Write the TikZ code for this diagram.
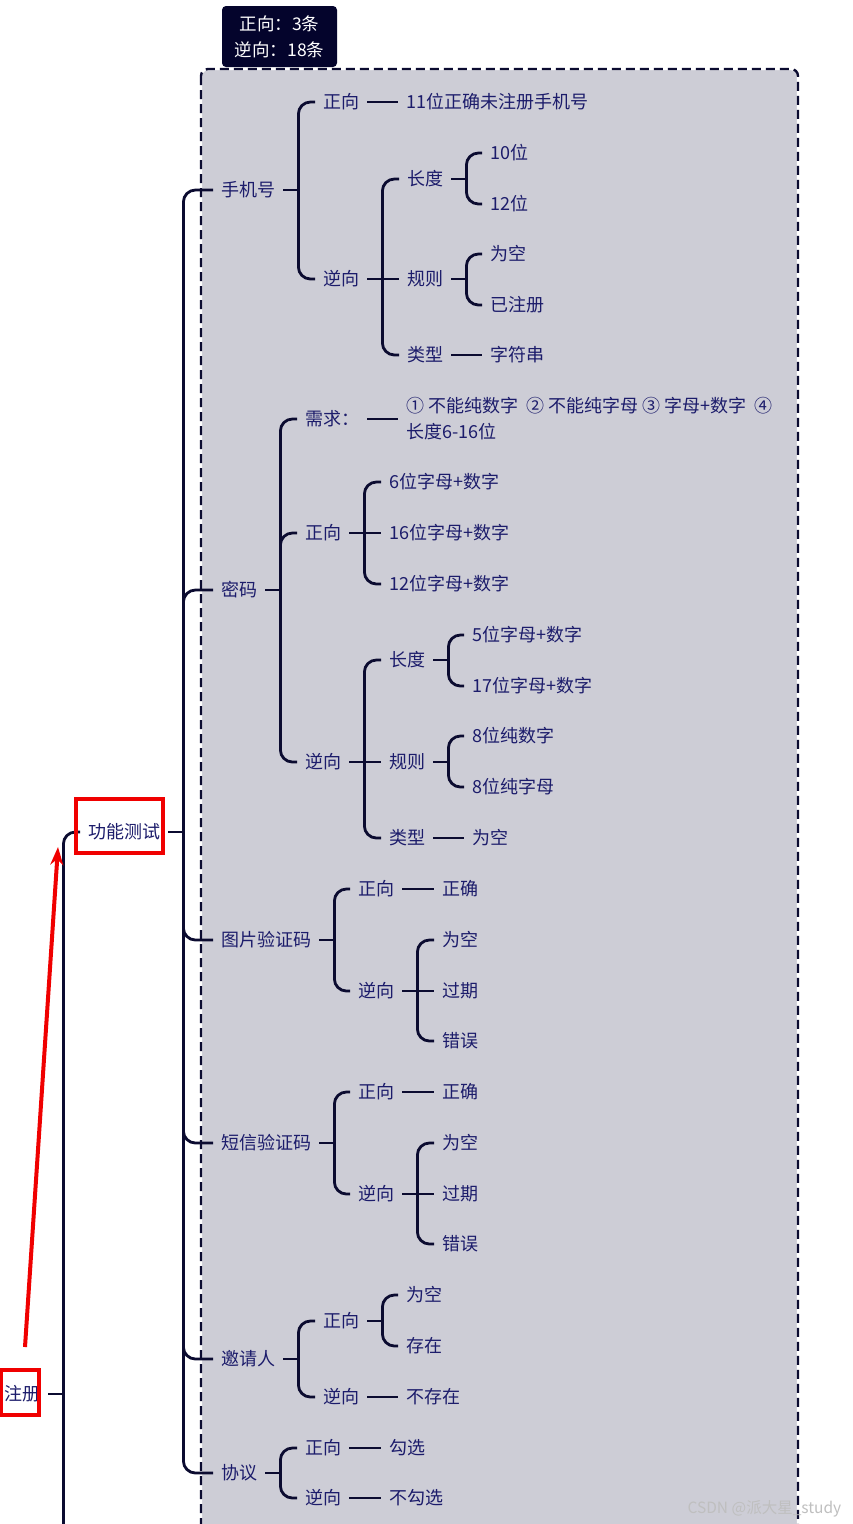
\documentclass[tikz,border=0pt]{standalone}
\usepackage{fontspec}
\setmainfont{Noto Sans CJK SC}
\usepackage{tikz}
\usetikzlibrary{arrows.meta,calc}
\definecolor{ink}{HTML}{1C1C6B}
\definecolor{wire}{HTML}{0B0B30}
\definecolor{panelgray}{HTML}{CDCDD6}
\definecolor{tagnavy}{HTML}{04042C}
\definecolor{redpen}{HTML}{F00000}
\tikzset{
  topic/.style={anchor=west,inner xsep=8pt,inner ysep=2pt,yshift=-1pt,text=ink,font=\fontsize{18}{26}\selectfont},
  link/.style={draw=wire,line width=2.8pt},
  forklink/.style={link,rounded corners=12pt},
  redbox/.style={draw=redpen,line width=3.5pt},
}
% stub out of a parent, elbow to a child, straight link
\newcommand{\stub}[1]{\draw[link] (#1.east) -- ++(15,0);}
\newcommand{\fork}[2]{\draw[forklink] ($(#1.east)+(15,0)$) |- (#2.west);}
\newcommand{\joint}[2]{\draw[link] (#1.east) -- (#2.west);}

\begin{document}
\begin{tikzpicture}[x=1pt,y=-1pt]
\clip (0,0) rectangle (852,1524);
\fill[white] (0,0) rectangle (852,1524);
% panel and tally tag
\draw[white,line width=2.4pt,fill=panelgray,rounded corners=7pt] (201,69) rectangle (798,1580);
\draw[wire,line width=2.4pt,dash pattern=on 9pt off 5pt,rounded corners=7pt] (201,69) rectangle (798,1580);
\node[fill=tagnavy,text=white,rounded corners=4pt,minimum width=115pt,minimum height=61pt,align=center,
  font=\fontsize{17.5}{26}\selectfont] (tally) at (279.5,36.5) {正向：3条\\逆向：18条};

% root and first level
\node[topic] (reg) at (-4,1393) {注册};
\node[topic] (func) at (80,831) {功能测试};
\node[topic] (phone) at (213,189) {手机号};
\node[topic] (pwd) at (213,589) {密码};
\node[topic] (imgcode) at (213,939) {图片验证码};
\node[topic] (smscode) at (213,1142) {短信验证码};
\node[topic] (inviter) at (213,1358) {邀请人};
\node[topic] (agree) at (213,1472) {协议};

% phone
\node[topic] (phonepos) at (315,101) {正向};
\node[topic] (phoneneg) at (315,278) {逆向};
\node[topic] (phoneok) at (398,101) {11位正确未注册手机号};
\node[topic] (phonelen) at (399,178) {长度};
\node[topic] (phonerule) at (399,278) {规则};
\node[topic] (phonetype) at (399,354) {类型};
\node[topic] (len10) at (482,152) {10位};
\node[topic] (len12) at (482,203) {12位};
\node[topic] (ruleempty) at (482,253) {为空};
\node[topic] (ruletaken) at (482,304) {已注册};
\node[topic] (typestr) at (482,354) {字符串};

% password
\node[topic] (pwdreq) at (297,418) {需求：};
\node[topic] (pwdpos) at (297,532) {正向};
\node[topic] (pwdneg) at (297,761) {逆向};
\node[topic,align=left] (pwdreqtext) at (398,418) {① 不能纯数字\ \ ② 不能纯字母 ③ 字母+数字\ \ ④\\长度6-16位};
\node[topic] (pwdpos6) at (381,481) {6位字母+数字};
\node[topic] (pwdpos16) at (381,532) {16位字母+数字};
\node[topic] (pwdpos12) at (381,583) {12位字母+数字};
\node[topic] (pwdlen) at (381,659) {长度};
\node[topic] (pwdrule) at (381,761) {规则};
\node[topic] (pwdtype) at (381,837) {类型};
\node[topic] (pwdlen5) at (464,634) {5位字母+数字};
\node[topic] (pwdlen17) at (464,685) {17位字母+数字};
\node[topic] (pwdrulenum) at (464,735) {8位纯数字};
\node[topic] (pwdrulealpha) at (464,786) {8位纯字母};
\node[topic] (pwdtypeempty) at (464,837) {为空};

% image code / sms code
\node[topic] (imgpos) at (350,888) {正向};
\node[topic] (imgneg) at (350,990) {逆向};
\node[topic] (imgok) at (434,888) {正确};
\node[topic] (imgempty) at (434,939) {为空};
\node[topic] (imgexpired) at (434,990) {过期};
\node[topic] (imgwrong) at (434,1040) {错误};
\node[topic] (smspos) at (350,1091) {正向};
\node[topic] (smsneg) at (350,1193) {逆向};
\node[topic] (smsok) at (434,1091) {正确};
\node[topic] (smsempty) at (434,1142) {为空};
\node[topic] (smsexpired) at (434,1193) {过期};
\node[topic] (smswrong) at (434,1243) {错误};

% inviter / agreement
\node[topic] (invpos) at (315,1320) {正向};
\node[topic] (invneg) at (315,1396) {逆向};
\node[topic] (invempty) at (398,1294) {为空};
\node[topic] (invexists) at (398,1345) {存在};
\node[topic] (invnone) at (398,1396) {不存在};
\node[topic] (agrpos) at (297,1447) {正向};
\node[topic] (agrneg) at (297,1497) {逆向};
\node[topic] (agrtick) at (381,1447) {勾选};
\node[topic] (agrnotick) at (381,1497) {不勾选};

% connectors
\stub{reg} \fork{reg}{func}
\draw[link] ($(reg.east)+(15,0)$) -- ($(reg.east)+(15,170)$);
\stub{func}
\foreach \c in {phone,pwd,imgcode,smscode,inviter,agree} {\fork{func}{\c}}
\stub{phone} \fork{phone}{phonepos} \fork{phone}{phoneneg}
\joint{phonepos}{phoneok}
\joint{phoneneg}{phonerule} \fork{phoneneg}{phonelen} \fork{phoneneg}{phonetype}
\stub{phonelen} \fork{phonelen}{len10} \fork{phonelen}{len12}
\stub{phonerule} \fork{phonerule}{ruleempty} \fork{phonerule}{ruletaken}
\joint{phonetype}{typestr}
\stub{pwd} \foreach \c in {pwdreq,pwdpos,pwdneg} {\fork{pwd}{\c}}
\joint{pwdreq}{pwdreqtext}
\joint{pwdpos}{pwdpos16} \fork{pwdpos}{pwdpos6} \fork{pwdpos}{pwdpos12}
\joint{pwdneg}{pwdrule} \fork{pwdneg}{pwdlen} \fork{pwdneg}{pwdtype}
\stub{pwdlen} \fork{pwdlen}{pwdlen5} \fork{pwdlen}{pwdlen17}
\stub{pwdrule} \fork{pwdrule}{pwdrulenum} \fork{pwdrule}{pwdrulealpha}
\joint{pwdtype}{pwdtypeempty}
\foreach \k in {img,sms} {
  \stub{\k code} \fork{\k code}{\k pos} \fork{\k code}{\k neg}
  \joint{\k pos}{\k ok}
  \joint{\k neg}{\k expired} \fork{\k neg}{\k empty} \fork{\k neg}{\k wrong}
}
\stub{inviter} \fork{inviter}{invpos} \fork{inviter}{invneg}
\stub{invpos} \fork{invpos}{invempty} \fork{invpos}{invexists}
\joint{invneg}{invnone}
\stub{agree} \fork{agree}{agrpos} \fork{agree}{agrneg}
\joint{agrpos}{agrtick} \joint{agrneg}{agrnotick}

% red marks
\draw[redbox] (76,799) rectangle (163,853);
\draw[redbox] (1,1370) rectangle (39,1415);
\coordinate (arrowtail) at (25,1347);
\coordinate (arrowtip) at (58,847);
\draw[redpen,line width=4pt,-{Stealth[length=18pt,width=13pt]}] (arrowtail) -- (arrowtip);

\node[anchor=west,text=gray!50,font=\fontsize{15.5}{16}\selectfont] (credit) at (684,1509) {CSDN @派大星\_study};
\end{tikzpicture}
\end{document}
